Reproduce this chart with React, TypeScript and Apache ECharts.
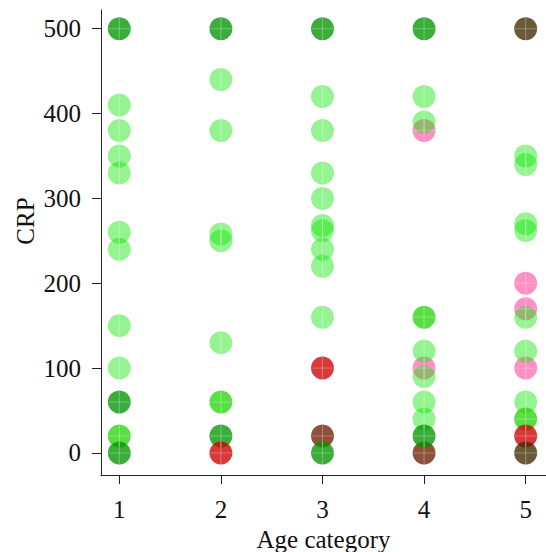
import React, { useEffect, useRef } from "react";
import * as echarts from "echarts";

// Axis ticks
const ageCategories = [1, 2, 3, 4, 5];
const crpTicks = [0, 100, 200, 300, 400, 500];

type Pt = [number, number];

// Points grouped by the colour they are drawn in: [age category, CRP]
const lightGreen: Pt[] = [
  [1, 410], [1, 380], [1, 350], [1, 330], [1, 260], [1, 240], [1, 150], [1, 100],
  [2, 440], [2, 380], [2, 258], [2, 250], [2, 130],
  [3, 420], [3, 380], [3, 330], [3, 300], [3, 268], [3, 262], [3, 240], [3, 220], [3, 160],
  [4, 420], [4, 390], [4, 120], [4, 90], [4, 60], [4, 40],
  [5, 350], [5, 340], [5, 270], [5, 262], [5, 160], [5, 120], [5, 60],
];
const midGreen: Pt[] = [[1, 20], [2, 60], [4, 160], [5, 40]];
const darkGreen: Pt[] = [
  [1, 500], [2, 500], [3, 500], [4, 500],
  [1, 60], [1, 0], [2, 20], [3, 0], [4, 20],
];
const pink: Pt[] = [[4, 380], [4, 100], [5, 200], [5, 170], [5, 100]];
const red: Pt[] = [[2, 0], [3, 100], [5, 20]];
const darkRed: Pt[] = [[3, 20], [4, 0]];
const olive: Pt[] = [[5, 500], [5, 0]];

// Drawing order matters where circles overlap
const groups = [
  { name: "pink", data: pink, color: "rgba(255,30,140,0.62)", cross: true },
  { name: "lightGreen", data: lightGreen, color: "rgba(10,230,0,0.54)", cross: false },
  { name: "midGreen", data: midGreen, color: "rgba(30,212,0,0.92)", cross: true },
  { name: "darkRed", data: darkRed, color: "rgba(108,28,0,0.96)", cross: true },
  { name: "darkGreen", data: darkGreen, color: "rgba(0,148,0,0.96)", cross: true },
  { name: "red", data: red, color: "rgba(205,0,0,0.97)", cross: true },
  { name: "olive", data: olive, color: "rgba(62,44,0,0.97)", cross: true },
];

const FONT = "'Liberation Serif', 'Times New Roman', serif";
const INK = "#111";

export default function App() {
  const ref = useRef<HTMLDivElement>(null);

  useEffect(() => {
    const chart = echarts.init(ref.current!, null, { renderer: "svg" });
    const allPts = groups.flatMap((g) => g.data);
    const crossPts = groups.filter((g) => g.cross).flatMap((g) => g.data);
    const axisLineStyle = { color: "#222", width: 1 };

    chart.setOption({
      animation: false,
      grid: { left: 101, right: 0, top: 10, bottom: 77, outerBoundsMode: "none", containLabel: false },
      xAxis: {
        type: "value",
        min: 0.82,
        max: 5.2,
        name: "Age category",
        nameLocation: "middle",
        nameGap: 51,
        nameTextStyle: { fontFamily: FONT, fontSize: 25, color: INK },
        axisLine: { show: true, onZero: false, lineStyle: axisLineStyle },
        axisTick: { show: true, length: 9, customValues: ageCategories, lineStyle: axisLineStyle },
        axisLabel: { customValues: ageCategories, margin: 22, fontFamily: FONT, fontSize: 25, color: INK },
        splitLine: { show: false },
      },
      yAxis: {
        type: "value",
        min: -26,
        max: 522,
        axisLine: { show: true, onZero: false, lineStyle: axisLineStyle },
        axisTick: { show: true, length: 9, customValues: crpTicks, lineStyle: axisLineStyle },
        axisLabel: { customValues: crpTicks, margin: 20, fontFamily: FONT, fontSize: 25, color: INK },
        splitLine: { show: false },
      },
      graphic: [
        {
          type: "text",
          x: 25,
          y: 221,
          rotation: Math.PI / 2,
          style: {
            text: "CRP",
            fontFamily: FONT,
            fontSize: 25,
            fill: INK,
            textAlign: "center",
            textVerticalAlign: "middle",
          },
        },
      ],
      series: [
        ...groups.map((g) => ({
          name: g.name,
          type: "scatter",
          data: g.data,
          symbol: "circle",
          symbolSize: 23,
          itemStyle: { color: g.color },
          emphasis: { disabled: true },
          z: 2,
        })),
        {
          name: "vertical",
          type: "scatter",
          data: allPts,
          symbol: "rect",
          symbolSize: [1.2, 22],
          itemStyle: { color: "rgba(255,255,255,0.33)" },
          silent: true,
          z: 3,
        },
        {
          name: "horizontal",
          type: "scatter",
          data: crossPts,
          symbol: "rect",
          symbolSize: [22, 1.2],
          itemStyle: { color: "rgba(255,255,255,0.28)" },
          silent: true,
          z: 3,
        },
      ],
    });

    return () => chart.dispose();
  }, []);

  return (
    <div
      ref={ref}
      style={{ position: "fixed", left: 0, top: 0, width: 546, height: 552, background: "#fff" }}
    />
  );
}
